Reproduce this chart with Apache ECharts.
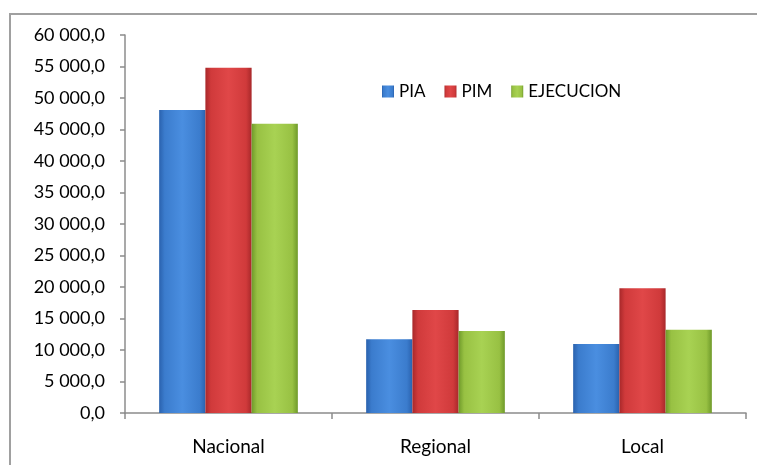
<!DOCTYPE html>
<html>
<head>
<meta charset="utf-8">
<script src="https://cdn.jsdelivr.net/npm/echarts@6/dist/echarts.min.js"></script>
<style>
  html, body { margin: 0; padding: 0; background: #fff; }
  #frame { position: absolute; left: 9px; top: 13px; width: 760px; height: 470px; border: 2px solid #a0a0a0; box-sizing: border-box; }
  #chart { position: absolute; left: 0; top: 0; width: 757px; height: 465px; }
</style>
</head>
<body>
<div id="frame"></div>
<div id="chart"></div>
<script>
// Presupuesto por nivel de gobierno
const categories = ['Nacional', 'Regional', 'Local'];
const pia = [48100, 11700, 10950];
const pim = [54800, 16350, 19800];
const ejecucion = [45900, 13000, 13200];
const yTicks = [0, 60000, 5000]; // min, max, interval

function shade(dark, mid, light) {
  return {
    type: 'linear', x: 0, y: 0, x2: 1, y2: 0,
    colorStops: [
      { offset: 0, color: dark },
      { offset: 0.12, color: mid },
      { offset: 0.5, color: light },
      { offset: 0.88, color: mid },
      { offset: 1, color: dark }
    ]
  };
}

function fmt(v) {
  const s = Math.round(v).toString().replace(/\B(?=(\d{3})+(?!\d))/g, ' ');
  return s + ',0';
}

const font = 'Lato, "Open Sans", sans-serif';

const chart = echarts.init(document.getElementById('chart'), null, { renderer: 'canvas' });
chart.setOption({
  animation: false,
  textStyle: { fontFamily: font },
  grid: { left: 125, right: 11, top: 35, bottom: 52 },
  legend: {
    left: 377, top: 78,
    itemWidth: 12, itemHeight: 12, itemGap: 19,
    icon: 'rect',
    textStyle: { fontSize: 17, color: '#000', fontFamily: font },
    data: ['PIA', 'PIM', 'EJECUCION']
  },
  xAxis: {
    type: 'category',
    data: categories,
    axisLine: { lineStyle: { color: '#8c8c8c', width: 1.5 } },
    axisTick: { show: true, length: 6, lineStyle: { color: '#8c8c8c', width: 1.5 } },
    axisLabel: { fontSize: 19, color: '#000', margin: 24, fontFamily: font }
  },
  yAxis: {
    type: 'value',
    min: yTicks[0], max: yTicks[1], interval: yTicks[2],
    axisLine: { show: true, lineStyle: { color: '#8c8c8c', width: 1.5 } },
    axisTick: { show: true, length: 5, lineStyle: { color: '#8c8c8c', width: 1.5 } },
    splitLine: { show: false },
    axisLabel: { fontSize: 18, color: '#000', margin: 20, formatter: fmt, fontFamily: font }
  },
  series: [
    {
      name: 'PIA', type: 'bar', data: pia, barGap: '0%', barCategoryGap: '33%',
      itemStyle: { color: shade('#2a62ae', '#3b7ccd', '#4a8ee0') }
    },
    {
      name: 'PIM', type: 'bar', data: pim,
      itemStyle: { color: shade('#a8282a', '#d03a3b', '#e04748') }
    },
    {
      name: 'EJECUCION', type: 'bar', data: ejecucion,
      itemStyle: { color: shade('#6f9a2a', '#98c143', '#a8d253') }
    }
  ]
});
</script>
</body>
</html>
